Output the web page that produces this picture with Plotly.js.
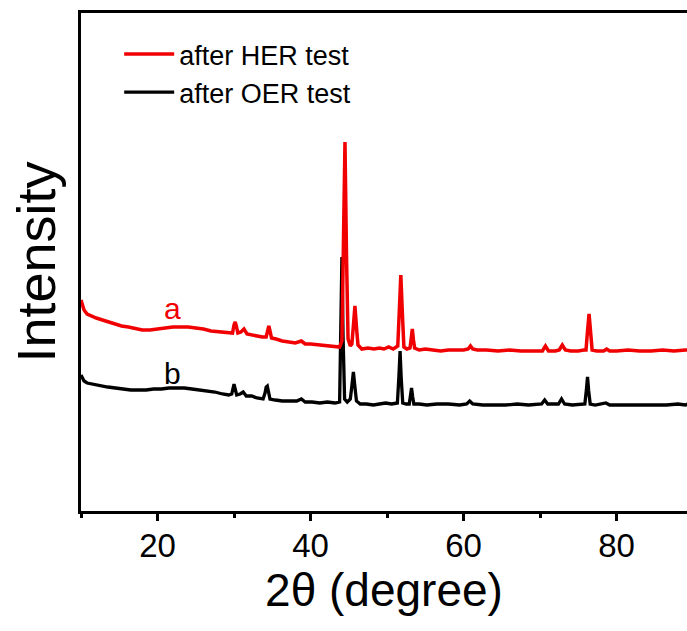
<!DOCTYPE html>
<html>
<head>
<meta charset="utf-8">
<script src="https://cdn.plot.ly/plotly-3.0.1.min.js"></script>
<style>html,body{margin:0;padding:0;background:#fff;}#chart{width:687px;height:631px;}</style>
</head>
<body>
<div id="chart"></div>
<script>
// 2θ positions and intensities (arbitrary units)
var herX = [10, 10.15, 10.4, 10.8, 11.3, 12, 12.8, 13.6, 14.5, 15.3,
  16.2, 17, 18, 19, 20, 21, 22, 23, 24, 25,
  26, 27, 28, 29, 29.8, 30.0, 30.15, 30.3, 30.5, 30.9,
  31.3, 31.7, 32.3, 33, 33.7, 34.2, 34.4, 34.55, 34.7, 34.9,
  35.5, 36.3, 37.2, 38, 38.8, 39.3, 40, 41, 42, 43,
  43.8, 44.1, 44.3, 44.5, 44.7, 44.9, 45.2, 45.4, 45.6, 45.8,
  46.0, 46.2, 46.7, 47.5, 48.3, 49.0, 49.6, 50.2, 50.8, 51.4,
  51.6, 51.8, 52.0, 52.2, 52.6, 53.0, 53.15, 53.3, 53.45, 53.6,
  54.2, 55, 56, 57, 58, 59, 60, 60.6, 60.9, 61.2,
  61.8, 63, 64.5, 66, 67.5, 69, 70.3, 70.7, 71.1, 72,
  72.5, 72.9, 73.3, 74, 75, 75.7, 76.0, 76.2, 76.4, 76.6,
  76.8, 77.4, 78.3, 78.7, 79.1, 80, 81.5, 83, 84.5, 86,
  87.5, 89, 89.3];
var herY = [211, 206, 201, 197, 195, 193, 191, 189, 187, 185,
  184, 183, 181, 181, 182, 183, 184, 184, 184, 183,
  182, 180, 179, 178, 178, 186, 189, 185, 178, 179,
  182, 177, 176, 175, 174, 174, 182, 185, 180, 173,
  172, 170, 169, 168, 170, 167, 167, 166, 165, 164,
  164, 170, 260, 369, 255, 172, 165, 167, 185, 205,
  184, 166, 162, 163, 162, 163, 162, 164, 162, 165,
  200, 236, 198, 164, 162, 163, 172, 182, 171, 163,
  161, 162, 161, 160, 161, 161, 161, 162, 165, 162,
  161, 161, 160, 161, 160, 160, 160, 165, 160, 160,
  161, 166, 161, 160, 160, 161, 161, 180, 197, 179,
  161, 160, 160, 162, 160, 160, 161, 160, 160, 161,
  160, 161, 161];

var oerX = [10, 10.15, 10.4, 10.8, 11.5, 12.5, 13.5, 14.5, 15.5, 16.5,
  17.5, 18.5, 19.5, 20.5, 21.5, 22.5, 23.5, 24.5, 25.5, 26.5,
  27.5, 28.5, 29.3, 29.7, 29.85, 30.0, 30.15, 30.35, 30.8, 31.2,
  31.6, 32.3, 33, 33.8, 34.05, 34.2, 34.35, 34.5, 34.7, 35.4,
  36.3, 37.2, 38.2, 38.8, 39.3, 40.2, 41.2, 42.2, 43.2, 43.8,
  43.95, 44.1, 44.25, 44.45, 44.8, 45.2, 45.4, 45.6, 45.8, 46.0,
  46.5, 47.3, 48.2, 49, 49.8, 50.6, 51.35, 51.55, 51.7, 51.85,
  52.05, 52.5, 52.9, 53.05, 53.2, 53.35, 53.5, 54.2, 55.2, 56.5,
  58, 59.5, 60.4, 60.8, 61.2, 62.5, 64, 65.5, 67, 68.5,
  70.2, 70.6, 71.0, 72, 72.4, 72.8, 73.2, 74.2, 75.2, 75.85,
  76.05, 76.2, 76.35, 76.55, 77.2, 78.2, 78.6, 79.1, 80.5, 82,
  83.5, 85, 86.5, 88, 89, 89.3];
var oerY = [136, 133, 130, 128, 127, 125, 124, 123, 122, 121,
  121, 121, 122, 122, 123, 123, 123, 122, 121, 120,
  119, 117, 116, 117, 123, 127, 122, 116, 117, 119,
  115, 115, 113, 112, 118, 124, 125, 118, 112, 111,
  110, 110, 110, 112, 109, 109, 108, 109, 108, 109,
  180, 254, 175, 112, 109, 112, 125, 139, 124, 110,
  107, 107, 106, 107, 108, 107, 108, 135, 160, 133,
  108, 107, 107, 115, 123, 114, 107, 107, 106, 107,
  107, 106, 107, 110, 107, 106, 106, 106, 107, 106,
  107, 111, 107, 107, 107, 112, 107, 106, 107, 107,
  121, 134, 120, 107, 106, 107, 108, 106, 106, 106,
  106, 106, 106, 107, 106, 107];

var seriesNames = ["after HER test", "after OER test"];
var seriesColors = ["#f00000", "#000000"];
var curveLabels = ["a", "b"];
var labelX = [21.9, 22.0];
var labelY = [203, 138];
var xTicks = [20, 40, 60, 80];

var FONT = "Arial, 'Liberation Sans', sans-serif";

var traces = [
  {x: oerX, y: oerY, type: "scatter", mode: "lines", name: seriesNames[1],
   line: {color: seriesColors[1], width: 3.3}, legendrank: 2},
  {x: herX, y: herY, type: "scatter", mode: "lines", name: seriesNames[0],
   line: {color: seriesColors[0], width: 3.5}, legendrank: 1}
];

var layout = {
  width: 687, height: 631,
  margin: {l: 81, r: 0, t: 13, b: 120},
  paper_bgcolor: "#fff", plot_bgcolor: "#fff",
  font: {family: FONT, color: "#000"},
  showlegend: true,
  legend: {x: 0.063, y: 0.966, xanchor: "left", yanchor: "top",
    font: {family: FONT, size: 27, color: "#000"},
    bgcolor: "rgba(0,0,0,0)", traceorder: "normal",
    itemwidth: 50},
  xaxis: {
    range: [10, 89.2], showline: true, linewidth: 3, linecolor: "#000", mirror: true,
    showgrid: false, zeroline: false,
    tickmode: "array", tickvals: xTicks, ticktext: xTicks.map(String),
    ticks: "outside", ticklen: 7, tickwidth: 3, tickcolor: "#000",
    ticklabelstandoff: -4,
    tickfont: {family: FONT, size: 33, color: "#000"},
    minor: {dtick: 10, tick0: 0, ticks: "outside", ticklen: 4, tickwidth: 3, tickcolor: "#000", showgrid: false},
    title: {text: "2θ (degree)", font: {family: FONT, size: 46, color: "#000"}, standoff: 0},
    automargin: false
  },
  yaxis: {
    range: [0, 498], showline: true, linewidth: 3, linecolor: "#000", mirror: false,
    showgrid: false, zeroline: false, showticklabels: false, ticks: "",
    title: {text: "Intensity", font: {family: FONT, size: 54, color: "#000"}, standoff: 6},
    automargin: false
  },
  annotations: [
    {x: labelX[0], y: labelY[0], xref: "x", yref: "y", text: curveLabels[0], showarrow: false,
     font: {family: FONT, size: 30, color: seriesColors[0]}},
    {x: labelX[1], y: labelY[1], xref: "x", yref: "y", text: curveLabels[1], showarrow: false,
     font: {family: FONT, size: 30, color: seriesColors[1]}}
  ]
};

Plotly.newPlot("chart", traces, layout, {displayModeBar: false, staticPlot: true});
</script>
</body>
</html>
